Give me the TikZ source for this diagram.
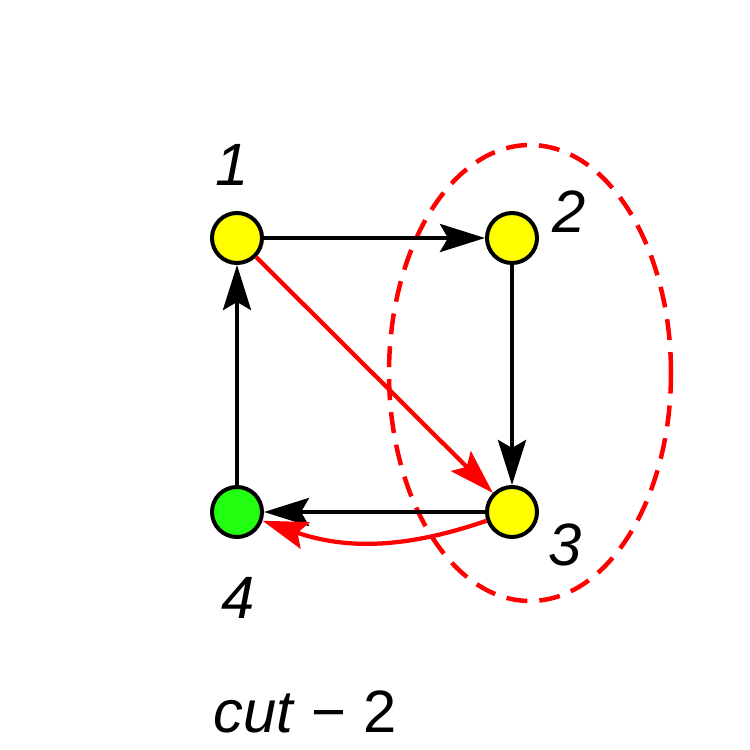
\documentclass[tikz,border=0pt]{standalone}
\usepackage{fontspec}
\setmainfont{Liberation Sans}
\usepackage{xcolor}
\usetikzlibrary{arrows.meta, shapes.geometric}
\definecolor{cnode}{HTML}{FFFF00}
\definecolor{cstart}{HTML}{22FF11}
\definecolor{ccut}{HTML}{FF0000}
\tikzset{
  vtx/.style={draw, circle, line width=0.08cm, minimum size=1.0cm, inner sep=0pt, fill=cnode},
  lbl/.style={font=\fontsize{34}{40}\selectfont\itshape, inner sep=0pt},
  ed/.style={-{Stealth[length=9mm, width=5.6mm, inset=1.6mm]}, line width=0.085cm},
  red/.style={ed, draw=ccut},
  cutset/.style={draw=ccut, line width=0.09cm, dash pattern=on 4.2mm off 2.4mm},
}
\begin{document}
\begin{tikzpicture}
  \useasboundingbox (0,0) rectangle (15,15);
  % cut region
  \node[cutset, ellipse, minimum width=5.64cm, minimum height=9.12cm] (cut) at (10.6,7.54) {};
  % vertices
  \node[vtx] (v1) at (4.74,10.24) {};
  \node[vtx] (v2) at (10.24,10.24) {};
  \node[vtx] (v3) at (10.24,4.76) {};
  \node[vtx, fill=cstart] (v4) at (4.74,4.76) {};
  \node[lbl] (l1) at (4.64,11.7) {1};
  \node[lbl] (l2) at (11.38,10.76) {2};
  \node[lbl] (l3) at (11.3,4.1) {3};
  \node[lbl] (l4) at (4.76,3.04) {4};
  \node[lbl, font=\fontsize{34}{40}\selectfont] (cap) at (6.1,0.76) {\textit{cut} − 2};
  % edges
  \draw[ed] (v1) -- (v2);
  \draw[ed] (v2) -- (v3);
  \draw[ed] (v3) -- (v4);
  \draw[ed] (v4) -- (v1);
  \draw[red] (v1) -- (v3);
  \draw[red] (v3) to[bend left=19] (v4);
\end{tikzpicture}
\end{document}
